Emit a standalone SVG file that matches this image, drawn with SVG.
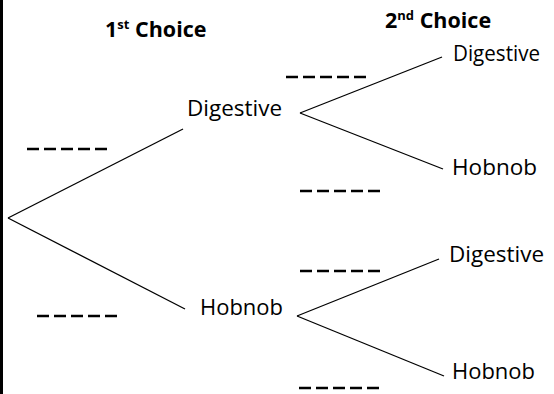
<svg xmlns="http://www.w3.org/2000/svg" width="554" height="394" viewBox="0 0 554 394">
<style>
.lbl{font-family:"Open Sans","Liberation Sans",sans-serif;font-size:21px;fill:#000}
.ttl{font-family:"Open Sans","Liberation Sans",sans-serif;font-size:21.5px;font-weight:bold;fill:#000}
.sup{font-size:13px}
.edge{stroke:#000;stroke-width:1.3;fill:none}
.blank{stroke:#000;stroke-width:2.5;stroke-dasharray:12 5}
</style>
<rect x="0" y="0" width="554" height="394" fill="#fff"/>
<rect x="0" y="0" width="3" height="394" fill="#000"/>
<g id="connectors">
<line class="edge" x1="8" y1="218" x2="183" y2="129"/>
<line class="edge" x1="8" y1="218" x2="185" y2="309"/>
<line class="edge" x1="300" y1="113" x2="442" y2="57"/>
<line class="edge" x1="300" y1="113" x2="443" y2="169"/>
<line class="edge" x1="297" y1="316" x2="439" y2="259"/>
<line class="edge" x1="297" y1="316" x2="444" y2="376"/>
</g>
<g id="title-first"><text class="ttl" x="105" y="37">1<tspan class="sup" dy="-8">st</tspan><tspan dy="8"> Choice</tspan></text></g>
<g id="title-second"><text class="ttl" x="385" y="28">2<tspan class="sup" dy="-8">nd</tspan><tspan dy="8"> Choice</tspan></text></g>
<g id="first-digestive"><text class="lbl" x="187" y="116" textLength="95" lengthAdjust="spacingAndGlyphs">Digestive</text></g>
<g id="first-hobnob"><text class="lbl" x="200" y="315" textLength="83" lengthAdjust="spacingAndGlyphs">Hobnob</text></g>
<g id="dig-digestive"><text class="lbl" x="453" y="61" textLength="87" lengthAdjust="spacingAndGlyphs">Digestive</text></g>
<g id="dig-hobnob"><text class="lbl" x="452" y="175" textLength="85" lengthAdjust="spacingAndGlyphs">Hobnob</text></g>
<g id="hob-digestive"><text class="lbl" x="449" y="262" textLength="95" lengthAdjust="spacingAndGlyphs">Digestive</text></g>
<g id="hob-hobnob"><text class="lbl" x="452" y="379" textLength="83" lengthAdjust="spacingAndGlyphs">Hobnob</text></g>
<g id="blank-first-digestive"><line class="blank" x1="27" y1="149" x2="110" y2="149"/></g>
<g id="blank-first-hobnob"><line class="blank" x1="37" y1="316" x2="120" y2="316"/></g>
<g id="blank-dig-dig"><line class="blank" x1="286" y1="77" x2="369" y2="77"/></g>
<g id="blank-dig-hob"><line class="blank" x1="300" y1="191" x2="383" y2="191"/></g>
<g id="blank-hob-dig"><line class="blank" x1="300" y1="271" x2="383" y2="271"/></g>
<g id="blank-hob-hob"><line class="blank" x1="299" y1="388" x2="382" y2="388"/></g>
</svg>
